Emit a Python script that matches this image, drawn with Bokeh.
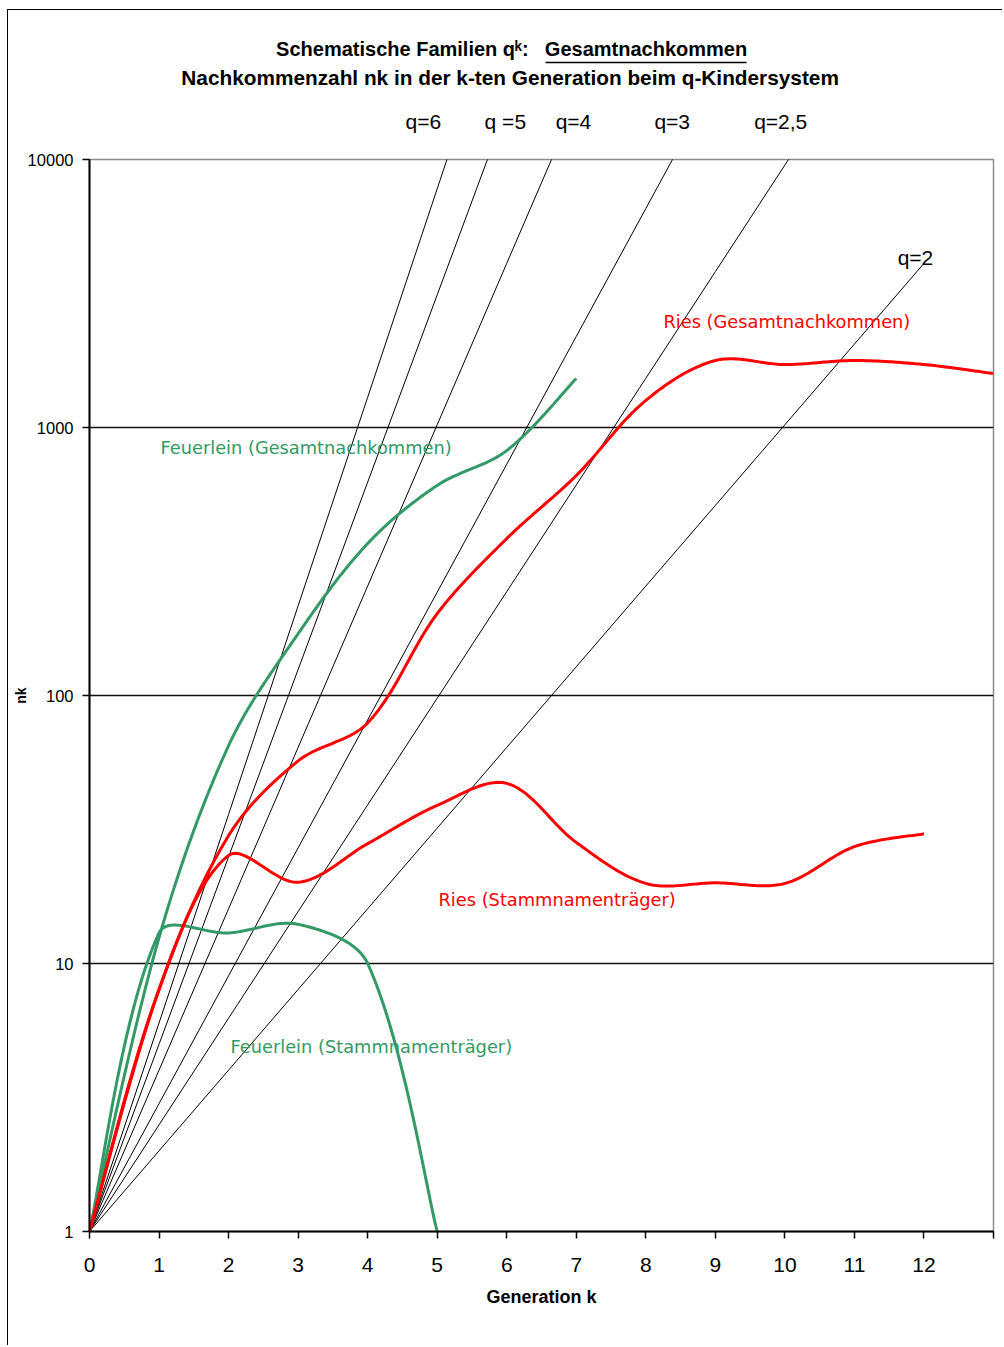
import numpy as np
from bokeh.plotting import figure
from bokeh.models import Range1d, FixedTicker, NumeralTickFormatter, Label, LinearAxis
from bokeh.embed import file_html
from bokeh.resources import INLINE

# ---------------- data ----------------
feuerlein_gesamt_k = [0, 1, 2, 3, 4, 5, 6, 7]
feuerlein_gesamt = [1, 12.5, 65, 170, 369, 608, 820, 1524]

feuerlein_stamm_k = [0, 1, 2, 3, 4, 5]
feuerlein_stamm = [1, 13.0, 13.0, 14.0, 10.0, 1.0]

ries_gesamt_k = [0, 1, 2, 3, 4, 5, 6, 7, 8, 9, 10, 11, 12, 13]
ries_gesamt = [1, 8, 30, 57, 79, 202, 385, 662, 1262, 1778, 1718, 1778, 1718, 1590]

ries_stamm_k = [0, 1, 2, 3, 4, 5, 6, 7, 8, 9, 10, 11, 12]
ries_stamm = [1, 8, 25.3, 20.1, 28.0, 38.9, 47.0, 28.3, 19.9, 20.0, 19.9, 27.3, 30.5]

# schematic families q^k
q_values = [6, 5, 4, 3, 2.5, 2]
q_kmax = [6, 6, 7, 9, 11, 12]
q_label_text = ["q=6", "q =5", "q=4", "q=3", "q=2,5"]
q_label_pos = [4.80, 5.98, 6.96, 8.38, 9.94]

x_ticks = list(range(14))
y_ticks = [1, 10, 100, 1000, 10000]

title_1 = ["Schematische Familien q\u1d4f:", "Gesamtnachkommen"]
title_1_pos = [4.50, 8.003]
title_2 = ["Nachkommenzahl  nk in der k-ten Generation beim q-Kindersystem"]
title_2_pos = [6.09]

GREEN = "#339966"
RED = "#FF0000"

# pixel sizes of one x unit / one decade (used only to shape the smoothed curves)
PX_X = 69.54
PX_DEC = 268.0


def smooth(ks, vals, n=30):
    """Excel-like smoothed line: cubic Bezier with length-weighted tangents (screen space)."""
    P = np.column_stack([np.asarray(ks, float) * PX_X,
                         np.log10(np.asarray(vals, float)) * PX_DEC])
    m = len(P)
    out = []
    for i in range(m - 1):
        p0 = P[max(i - 1, 0)]
        p1 = P[i]
        p2 = P[i + 1]
        p3 = P[min(i + 2, m - 1)]
        d01 = np.hypot(*(p1 - p0))
        d12 = np.hypot(*(p2 - p1))
        d23 = np.hypot(*(p3 - p2))
        f1 = d12 / (d01 + d12) / 3.0 if d01 > 0 else 1 / 6.0
        f2 = d12 / (d12 + d23) / 3.0 if d23 > 0 else 1 / 6.0
        c1 = p1 + (p2 - p0) * f1
        c2 = p2 - (p3 - p1) * f2
        t = np.linspace(0, 1, n, endpoint=(i == m - 2))[:, None]
        b = (1 - t) ** 3 * p1 + 3 * (1 - t) ** 2 * t * c1 + 3 * (1 - t) * t ** 2 * c2 + t ** 3 * p2
        out.append(b)
    b = np.vstack(out)
    return b[:, 0] / PX_X, 10 ** (b[:, 1] / PX_DEC)


p = figure(width=1002, height=1345,
           x_range=Range1d(0, 13), y_range=Range1d(1, 10000),
           y_axis_type="log", output_backend="svg", toolbar_location=None,
           min_border_left=89, min_border_right=9, min_border_top=159, min_border_bottom=114)
p.background_fill_color = "white"
p.border_fill_color = None
p.outline_line_color = "#8c8c8c"
p.outline_line_width = 1.5
p.styles = {"background": "linear-gradient(#000,#000) 7px 9px / 1px calc(100% - 9px) no-repeat, "
                          "linear-gradient(#000,#000) 7px 9px / calc(100% - 7px) 1px no-repeat, #ffffff"}

# axes
xa = p.xaxis[0]
xa.ticker = FixedTicker(ticks=x_ticks)
xa.major_label_overrides = {13: ""}
xa.axis_line_color = "black"
xa.axis_line_width = 2
xa.major_tick_line_color = "black"
xa.major_tick_line_width = 1.5
xa.major_tick_in = 0
xa.major_tick_out = 7
xa.minor_tick_line_color = None
xa.major_label_text_font = "Liberation Sans"
xa.major_label_text_font_size = "21px"
xa.major_label_text_color = "black"
xa.major_label_standoff = 19
xa.axis_label = "Generation k"
xa.axis_label_text_font = "Liberation Sans"
xa.axis_label_text_font_style = "bold"
xa.axis_label_text_font_size = "18px"
xa.axis_label_text_color = "black"
xa.axis_label_standoff = 12

ya = p.yaxis[0]
ya.ticker = FixedTicker(ticks=y_ticks)
ya.formatter = NumeralTickFormatter(format="0")
ya.axis_line_color = "black"
ya.axis_line_width = 2
ya.major_tick_line_color = "black"
ya.major_tick_line_width = 1.5
ya.major_tick_in = 0
ya.major_tick_out = 7
ya.minor_tick_line_color = None
ya.major_label_text_font = "Liberation Sans"
ya.major_label_text_font_size = "16.5px"
ya.major_label_text_color = "black"
ya.major_label_standoff = 9
ya.axis_label = "nk"
ya.axis_label_text_font = "Liberation Sans"
ya.axis_label_text_font_style = "bold"
ya.axis_label_text_font_size = "14px"
ya.axis_label_text_color = "black"
ya.axis_label_standoff = -4

p.xgrid.visible = False
p.ygrid.ticker = FixedTicker(ticks=[10, 100, 1000])
p.ygrid.grid_line_color = "#111111"
p.ygrid.grid_line_width = 1.6


# text rows above the frame, built as label-only axes (first added = nearest the frame)
def text_row(ticks, labels, size, style, standoff, bounds=None):
    ax = LinearAxis(ticker=FixedTicker(ticks=ticks),
                    major_label_overrides=dict(zip(ticks, labels)))
    ax.major_label_text_font = "Liberation Sans"
    ax.major_label_text_font_size = size
    ax.major_label_text_font_style = style
    ax.major_label_text_color = "black"
    ax.major_label_standoff = standoff
    ax.major_tick_line_color = None
    ax.minor_tick_line_color = None
    ax.major_tick_in = 0
    ax.major_tick_out = 0
    if bounds is not None:
        ax.bounds = bounds
        ax.axis_line_color = "black"
        ax.axis_line_width = 1.5
    else:
        ax.axis_line_color = None
    p.add_layout(ax, "above")
    return ax


text_row(q_label_pos, q_label_text, "21px", "normal", 27)
text_row(title_2_pos, title_2, "20.8px", "bold", 18)
text_row(title_1_pos, title_1, "20px", "bold", 3, bounds=(6.551, 9.455))

# q^k reference lines
for q, km in zip(q_values, q_kmax):
    ks = np.arange(0, km + 1)
    p.line(ks, np.power(float(q), ks), line_color="black", line_width=1)

# observed families
for ks, vals, col in [(feuerlein_gesamt_k, feuerlein_gesamt, GREEN),
                      (feuerlein_stamm_k, feuerlein_stamm, GREEN),
                      (ries_stamm_k, ries_stamm, RED),
                      (ries_gesamt_k, ries_gesamt, RED)]:
    sx, sy = smooth(ks, vals)
    p.line(sx, sy, line_color=col, line_width=3)


# ---------------- texts inside the frame ----------------
def lab(text, x, y, size, color="black", align="left", font="Liberation Sans"):
    p.add_layout(Label(x=x, y=y, text=text, text_font=font, text_font_size=size,
                       text_color=color, text_align=align, text_baseline="middle"))


lab("q=2", 11.878, 4307, "21px", align="center")
lab("Feuerlein (Gesamtnachkommen)", 1.021, 842, "17.8px", color=GREEN, font="DejaVu Sans")
lab("Ries (Gesamtnachkommen)", 8.254, 2487, "17.8px", color=RED, font="DejaVu Sans")
lab("Ries (Stammnamenträger)", 5.019, 17.3, "17.8px", color=RED, font="DejaVu Sans")
lab("Feuerlein (Stammnamenträger)", 2.028, 4.90, "17.8px", color=GREEN, font="DejaVu Sans")

open("out.html", "w").write(file_html(p, INLINE))
